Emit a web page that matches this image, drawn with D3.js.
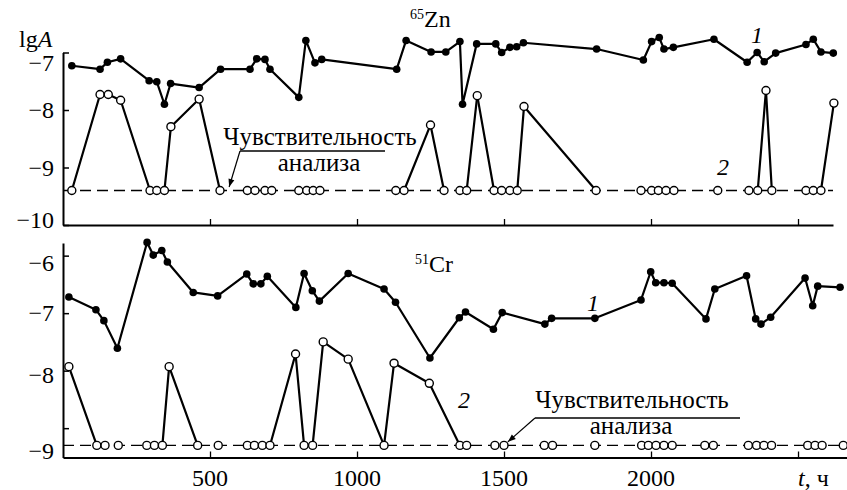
<!DOCTYPE html>
<html><head><meta charset="utf-8">
<script src="https://cdn.jsdelivr.net/npm/d3@7"></script>
<style>
body{margin:0;background:#fff}
svg{display:block}
</style>
</head><body>
<svg id="c" width="847" height="490"></svg>
<script>
// ---- data (t in hours, lgA) ----
const znT1 = [30,126,151,196,293,319,345,366,463,536,636,659,687,704,802,826,857,880,1135,1167,1252,1302,1350,1359,1407,1472,1492,1520,1543,1566,1815,1974,2002,2028,2044,2076,2214,2327,2361,2385,2424,2527,2552,2578,2620];
const znA1 = [-7.23,-7.29,-7.17,-7.11,-7.49,-7.51,-7.90,-7.54,-7.61,-7.29,-7.29,-7.11,-7.12,-7.29,-7.78,-6.79,-7.18,-7.12,-7.29,-6.79,-6.99,-6.99,-6.81,-7.90,-6.85,-6.85,-7.00,-6.91,-6.90,-6.83,-6.94,-7.13,-6.81,-6.74,-6.94,-6.91,-6.77,-7.17,-7.00,-7.16,-7.01,-6.86,-6.77,-6.99,-7.01];
const znLimit = -9.4;
const znT2 = [30,126,154,196,296,319,345,367,463,534,627,653,687,710,802,829,851,874,1132,1160,1250,1296,1350,1373,1409,1466,1492,1520,1545,1568,1813,1966,2002,2025,2051,2078,2227,2333,2363,2391,2411,2527,2552,2578,2622];
const znA2 = [-9.4,-7.73,-7.73,-7.83,-9.4,-9.4,-9.4,-8.29,-7.81,-9.4,-9.4,-9.4,-9.4,-9.4,-9.4,-9.4,-9.4,-9.4,-9.4,-9.4,-8.26,-9.4,-9.4,-9.4,-7.75,-9.4,-9.4,-9.4,-9.4,-7.94,-9.4,-9.4,-9.4,-9.4,-9.4,-9.4,-9.4,-9.4,-9.4,-7.66,-9.4,-9.4,-9.4,-9.4,-7.88];

const crT1 = [20,112,139,185,286,307,336,355,443,526,625,647,673,695,792,820,848,872,970,1092,1131,1248,1348,1369,1464,1494,1639,1662,1809,1966,1999,2016,2044,2072,2187,2217,2325,2356,2374,2407,2524,2550,2567,2643];
const crA1 = [-6.72,-6.94,-7.13,-7.61,-5.77,-5.99,-5.91,-6.11,-6.64,-6.70,-6.32,-6.49,-6.49,-6.36,-6.90,-6.31,-6.61,-6.79,-6.31,-6.58,-6.81,-7.78,-7.08,-6.98,-7.28,-6.99,-7.19,-7.09,-7.09,-6.77,-6.28,-6.47,-6.47,-6.48,-7.10,-6.58,-6.35,-7.10,-7.19,-7.07,-6.39,-6.87,-6.53,-6.55];
const crLimit = -9.3;
const crT2 = [20,115,143,188,285,311,338,361,458,528,627,651,678,704,791,820,849,885,970,1092,1126,1246,1350,1373,1469,1500,1637,1665,1809,1968,1991,2017,2044,2072,2183,2212,2331,2359,2384,2410,2533,2558,2582,2654];
const crA2 = [-7.93,-9.3,-9.3,-9.3,-9.3,-9.3,-9.3,-7.93,-9.3,-9.3,-9.3,-9.3,-9.3,-9.3,-7.71,-9.3,-9.3,-7.50,-7.80,-9.3,-7.87,-8.22,-9.3,-9.3,-9.3,-9.3,-9.3,-9.3,-9.3,-9.3,-9.3,-9.3,-9.3,-9.3,-9.3,-9.3,-9.3,-9.3,-9.3,-9.3,-9.3,-9.3,-9.3,-9.3];

const xTicks = [500,1000,1500,2000,2500];
const xTickLabels = ["500","1000","1500","2000"];
const znYTicks = [-7,-8,-9,-10];
const crYTicks = [-6,-7,-8,-9];
const sensText = ["Чувствительность","анализа"];

// ---- drawing ----
const FONT = '"Liberation Serif"';
const svg = d3.select("#c");
const x = d3.scaleLinear().domain([0,2619]).range([63,833]);
const xB = d3.scaleLinear().domain([0, x.invert(847)]).range([63,847]);
const yZn = d3.scaleLinear().domain([-7,-10]).range([52.5,225]);
const yCr = d3.scaleLinear().domain([-5.78,-9.51]).range([243,457.5]);
const fmt = d => "\u2212" + Math.abs(d);
const FS = 24;

function T(sel){ return sel.style("font-family", FONT).attr("fill","#000"); }

function panel(y, xs, T1, A1, T2, A2, limit, yTicks, xRight) {
  const g = svg.append("g");
  const ya = g.append("g").attr("transform",`translate(${x(0)},0)`)
    .call(d3.axisLeft(y).tickValues(yTicks).tickSizeInner(-6).tickSizeOuter(0).tickFormat(fmt));
  ya.attr("font-family", null).attr("font-size", null);
  ya.select(".domain").attr("stroke-width",2);
  ya.selectAll(".tick line").attr("stroke-width",1.5);
  T(ya.selectAll(".tick text").attr("x",-9).style("font-size",FS+"px"));
  const xa = g.append("g").attr("transform",`translate(0,${y.range()[1]})`)
    .call(d3.axisBottom(xs).tickValues(xTicks).tickSizeInner(-6).tickSizeOuter(0).tickFormat(""));
  xa.select(".domain").attr("stroke-width",2);
  xa.selectAll(".tick line").attr("stroke-width",1.3);

  g.append("line").attr("x1",x(0)).attr("x2",xRight).attr("y1",y(limit)).attr("y2",y(limit))
    .attr("stroke","#000").attr("stroke-width",1.4).attr("stroke-dasharray","11,6");

  const d1 = T1.map((t,i)=>({t, a:A1[i]}));
  const line = d3.line().x(d=>x(d.t)).y(d=>y(d.a));
  g.append("path").attr("d",line(d1)).attr("fill","none").attr("stroke","#000").attr("stroke-width",2.2).attr("stroke-linejoin","round");
  g.selectAll(".f").data(d1).join("circle").attr("cx",d=>x(d.t)).attr("cy",d=>y(d.a)).attr("r",3.8).attr("fill","#000");

  const d2 = T2.map((t,i)=>({t, a:A2[i]}));
  const segs = [];
  for (let i=0;i<d2.length-1;i++) {
    if (d2[i].a > limit + 0.01 || d2[i+1].a > limit + 0.01) segs.push([d2[i], d2[i+1]]);
  }
  g.selectAll(".s").data(segs).join("path").attr("d",line).attr("fill","none")
    .attr("stroke","#000").attr("stroke-width",2.2).attr("stroke-linecap","round");
  g.selectAll(".o").data(d2).join("circle").attr("cx",d=>x(d.t)).attr("cy",d=>y(d.a)).attr("r",4)
    .attr("fill","#fff").attr("stroke","#000").attr("stroke-width",1.4);
  return {g, ya, xa};
}

const pTop = panel(yZn, x, znT1, znA1, znT2, znA2, znLimit, znYTicks, x(2619));
pTop.ya.selectAll(".tick text").filter(d=>d===-7).attr("dy","0.75em");
pTop.ya.selectAll(".tick text").filter(d=>d===-10).attr("dy","0.1em");
const pBot = panel(yCr, xB, crT1, crA1, crT2, crA2, crLimit, crYTicks, 847);
pBot.ya.selectAll(".tick text").filter(d=>d===-6).attr("dy","0.6em");
pBot.ya.selectAll(".tick text").filter(d=>d===-8).attr("dy","0.5em");
pBot.ya.selectAll(".tick text").filter(d=>d===-9).attr("dy","1.25em");

T(svg.selectAll(".xl").data(xTickLabels).join("text")
  .attr("x",(d,i)=>x(xTicks[i])).attr("y",486).attr("text-anchor","middle").style("font-size",FS+"px").text(d=>d));
const tl = T(svg.append("text").attr("x",x(2500)).attr("y",486).style("font-size",FS+"px"));
tl.append("tspan").style("font-style","italic").text("t");
tl.append("tspan").text(", ч");

const yl = T(svg.append("text").attr("x",19).attr("y",47).style("font-size",FS+"px"));
yl.append("tspan").text("lg");
yl.append("tspan").style("font-style","italic").text("A");

function iso(xp, yp, mass, sym){
  const t = T(svg.append("text").attr("x",xp).attr("y",yp).style("font-size",FS+"px"));
  t.append("tspan").style("font-size","14px").attr("dy","-0.55em").text(mass);
  t.append("tspan").attr("dy","0.32em").text(sym);
}
iso(410,27,"65","Zn");
iso(415,272,"51","Cr");

function lab(xp, yp, s){ T(svg.append("text").attr("x",xp).attr("y",yp).style("font-size",FS+"px").style("font-style","italic").text(s)); }
lab(751,43,"1"); lab(717,175,"2");
lab(587,311,"1"); lab(458,408,"2");

function sens(cx, y1, ux1, ux2, uy, cx2, y2, tEnd, yScale, limit){
  T(svg.append("text").attr("x",cx).attr("y",y1).attr("text-anchor","middle").style("font-size","25px").text(sensText[0]));
  svg.append("line").attr("x1",ux1).attr("x2",ux2).attr("y1",uy).attr("y2",uy).attr("stroke","#000").attr("stroke-width",1.5);
  T(svg.append("text").attr("x",cx2).attr("y",y2).attr("text-anchor","middle").style("font-size","25px").text(sensText[1]));
  const ex = x(tEnd), ey = yScale(limit) - 3.5;
  svg.append("line").attr("x1",ux1).attr("y1",uy).attr("x2",ex).attr("y2",ey).attr("stroke","#000").attr("stroke-width",1.2);
  const ang = Math.atan2(ey-uy, ex-ux1);
  const L=8, W=3;
  const p = [[ex,ey],[ex - L*Math.cos(ang) + W*Math.sin(ang), ey - L*Math.sin(ang) - W*Math.cos(ang)],
             [ex - L*Math.cos(ang) - W*Math.sin(ang), ey - L*Math.sin(ang) + W*Math.cos(ang)]];
  svg.append("path").attr("d","M"+p.join("L")+"Z").attr("fill","#000");
}
sens(320,145,240,385,151,319,171,565,yZn,znLimit);
sens(632,408,535,740,418,631,434,1513,yCr,crLimit);
</script>
</body></html>
